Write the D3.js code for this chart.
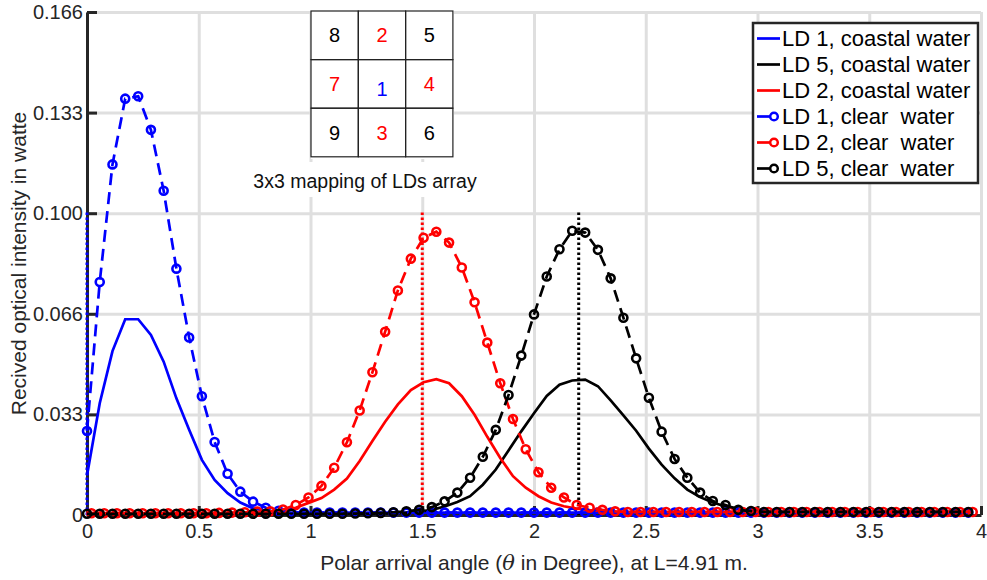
<!DOCTYPE html>
<html lang="en">

<head>
    <meta charset="utf-8">
    <title>Received optical intensity vs polar arrival angle</title>
    <script src="https://cdn.jsdelivr.net/npm/d3@7"></script>
    <style type="text/css">
    body {
        margin: 0;
        background: #fff;
    }

    svg {
        display: block;
        font-family: "Liberation Sans", Arial, sans-serif;
    }

    .grid line {
        stroke: #dfdfdf;
        stroke-width: 3;
    }

    .grid path {
        display: none;
    }

    .axis path,
    .axis line {
        fill: none;
        stroke: #262626;
        stroke-width: 3;
    }

    .axis text {
        font-size: 20px;
        fill: #262626;
    }
    </style>
</head>

<body>
    <script type="text/javascript">
    // Sample angles (degrees) used by LD 1 and LD 5
    var angles = [
        0.000, 0.057, 0.114, 0.171, 0.229, 0.286, 0.343, 0.400, 0.457, 0.514,
        0.571, 0.629, 0.686, 0.743, 0.800, 0.857, 0.914, 0.971, 1.029, 1.086,
        1.143, 1.200, 1.257, 1.314, 1.371, 1.429, 1.486, 1.543, 1.600, 1.657,
        1.714, 1.771, 1.829, 1.886, 1.943, 2.000, 2.057, 2.114, 2.171, 2.229,
        2.286, 2.343, 2.400, 2.457, 2.514, 2.571, 2.629, 2.686, 2.743, 2.800,
        2.857, 2.914, 2.971, 3.029, 3.086, 3.143, 3.200, 3.257, 3.314, 3.371,
        3.429, 3.486, 3.543, 3.600, 3.657, 3.714, 3.771, 3.829, 3.886, 3.943
    ];

    // LD 2 was sampled on a slightly shifted grid
    var anglesLD2 = [
        0.020, 0.077, 0.134, 0.191, 0.249, 0.306, 0.363, 0.420, 0.477, 0.534,
        0.591, 0.649, 0.706, 0.763, 0.820, 0.877, 0.934, 0.991, 1.049, 1.106,
        1.163, 1.220, 1.277, 1.334, 1.391, 1.449, 1.506, 1.563, 1.620, 1.677,
        1.734, 1.791, 1.849, 1.906, 1.963, 2.020, 2.077, 2.134, 2.191, 2.249,
        2.306, 2.363, 2.420, 2.477, 2.534, 2.591, 2.649, 2.706, 2.763, 2.820,
        2.877, 2.934, 2.991, 3.049, 3.106, 3.163, 3.220, 3.277, 3.334, 3.391,
        3.449, 3.506, 3.563, 3.620, 3.677, 3.734, 3.791, 3.849, 3.906, 3.963
    ];

    var ld1Coastal = [
        0.0130, 0.0369, 0.0541, 0.0646, 0.0646, 0.0594, 0.0506, 0.0385, 0.0281, 0.0182,
        0.0116, 0.0072, 0.0041, 0.0022, 0.0014, 0.0010, 0.0008, 0.0008, 0.0008, 0.0008,
        0.0008, 0.0008, 0.0008, 0.0008, 0.0008, 0.0008, 0.0008, 0.0008, 0.0008, 0.0008,
        0.0008, 0.0008, 0.0008, 0.0008, 0.0008, 0.0008, 0.0008, 0.0008, 0.0008, 0.0008,
        0.0008, 0.0008, 0.0008, 0.0008, 0.0008, 0.0008, 0.0008, 0.0008, 0.0008, 0.0008,
        0.0008, 0.0008, 0.0008, 0.0008, 0.0008, 0.0008, 0.0008, 0.0008, 0.0008, 0.0008,
        0.0008, 0.0008, 0.0008, 0.0008, 0.0008, 0.0008, 0.0008, 0.0008, 0.0008, 0.0008
    ];

    var ld5Coastal = [
        0.0004, 0.0004, 0.0004, 0.0004, 0.0004, 0.0004, 0.0004, 0.0004, 0.0004, 0.0004,
        0.0004, 0.0004, 0.0004, 0.0004, 0.0004, 0.0004, 0.0004, 0.0004, 0.0004, 0.0004,
        0.0004, 0.0004, 0.0004, 0.0004, 0.0006, 0.0008, 0.0011, 0.0017, 0.0028, 0.0043,
        0.0062, 0.0100, 0.0150, 0.0213, 0.0276, 0.0336, 0.0393, 0.0430, 0.0444, 0.0447,
        0.0425, 0.0378, 0.0329, 0.0278, 0.0219, 0.0166, 0.0121, 0.0084, 0.0059, 0.0041,
        0.0028, 0.0021, 0.0015, 0.0012, 0.0010, 0.0010, 0.0010, 0.0010, 0.0010, 0.0010,
        0.0010, 0.0010, 0.0010, 0.0010, 0.0010, 0.0010, 0.0010, 0.0010, 0.0010, 0.0010
    ];

    var ld2Coastal = [
        0.0006, 0.0006, 0.0006, 0.0006, 0.0006, 0.0006, 0.0006, 0.0006, 0.0006, 0.0006,
        0.0006, 0.0006, 0.0008, 0.0010, 0.0012, 0.0017, 0.0024, 0.0040, 0.0056, 0.0084,
        0.0120, 0.0178, 0.0244, 0.0308, 0.0365, 0.0412, 0.0438, 0.0448, 0.0435, 0.0392,
        0.0331, 0.0258, 0.0188, 0.0128, 0.0090, 0.0062, 0.0041, 0.0029, 0.0021, 0.0016,
        0.0013, 0.0011, 0.0010, 0.0010, 0.0010, 0.0010, 0.0010, 0.0010, 0.0010, 0.0010,
        0.0010, 0.0010, 0.0010, 0.0010, 0.0010, 0.0010, 0.0010, 0.0010, 0.0010, 0.0010,
        0.0010, 0.0010, 0.0010, 0.0010, 0.0010, 0.0010, 0.0010, 0.0010, 0.0010, 0.0010
    ];

    var ld1Clear = [
        0.0277, 0.0769, 0.1157, 0.1374, 0.1382, 0.1271, 0.1070, 0.0813, 0.0586, 0.0392,
        0.0241, 0.0136, 0.0077, 0.0044, 0.0024, 0.0014, 0.0010, 0.0008, 0.0008, 0.0008,
        0.0008, 0.0008, 0.0008, 0.0008, 0.0008, 0.0008, 0.0008, 0.0008, 0.0008, 0.0008,
        0.0008, 0.0008, 0.0008, 0.0008, 0.0008, 0.0008, 0.0008, 0.0008, 0.0008, 0.0008,
        0.0008, 0.0008, 0.0008, 0.0008, 0.0008, 0.0008, 0.0008, 0.0008, 0.0008, 0.0008,
        0.0008, 0.0008, 0.0008, 0.0008, 0.0008, 0.0008, 0.0008, 0.0008, 0.0008, 0.0008,
        0.0008, 0.0008, 0.0008, 0.0008, 0.0008, 0.0008, 0.0008, 0.0008, 0.0008, 0.0008
    ];

    var ld2Clear = [
        0.0006, 0.0006, 0.0006, 0.0006, 0.0006, 0.0006, 0.0006, 0.0006, 0.0006, 0.0006,
        0.0007, 0.0008, 0.0009, 0.0011, 0.0012, 0.0018, 0.0033, 0.0058, 0.0096, 0.0156,
        0.0240, 0.0345, 0.0471, 0.0605, 0.0741, 0.0846, 0.0915, 0.0935, 0.0899, 0.0817,
        0.0702, 0.0569, 0.0435, 0.0317, 0.0217, 0.0141, 0.0090, 0.0058, 0.0033, 0.0024,
        0.0017, 0.0012, 0.0010, 0.0010, 0.0010, 0.0010, 0.0010, 0.0010, 0.0010, 0.0010,
        0.0010, 0.0010, 0.0010, 0.0010, 0.0010, 0.0010, 0.0010, 0.0010, 0.0010, 0.0010,
        0.0010, 0.0010, 0.0010, 0.0010, 0.0010, 0.0010, 0.0010, 0.0010, 0.0010, 0.0010
    ];

    var ld5Clear = [
        0.0004, 0.0004, 0.0004, 0.0004, 0.0004, 0.0004, 0.0004, 0.0004, 0.0004, 0.0004,
        0.0004, 0.0004, 0.0004, 0.0004, 0.0004, 0.0004, 0.0004, 0.0004, 0.0004, 0.0004,
        0.0004, 0.0005, 0.0006, 0.0007, 0.0009, 0.0012, 0.0017, 0.0026, 0.0045, 0.0074,
        0.0123, 0.0192, 0.0281, 0.0396, 0.0526, 0.0662, 0.0787, 0.0877, 0.0938, 0.0932,
        0.0875, 0.0781, 0.0651, 0.0517, 0.0387, 0.0275, 0.0185, 0.0123, 0.0074, 0.0046,
        0.0033, 0.0017, 0.0013, 0.0010, 0.0010, 0.0010, 0.0010, 0.0010, 0.0010, 0.0010,
        0.0010, 0.0010, 0.0010, 0.0010, 0.0010, 0.0010, 0.0010, 0.0010, 0.0010, 0.0010
    ];

    // Dotted markers of the peak angle of each LD (angle, colour), drawn up to peakLevel
    var peakAngles = [0, 1.5, 2.2];
    var peakColors = ["#0000ff", "#ff0000", "#000000"];
    var peakLevel = 0.1;

    // Axis ticks
    var xTickValues = [0, 0.5, 1, 1.5, 2, 2.5, 3, 3.5, 4];
    var xTickLabels = ["0", "0.5", "1", "1.5", "2", "2.5", "3", "3.5", "4"];
    var yTickValues = [0, 0.0332, 0.0664, 0.0996, 0.1328, 0.166];
    var yTickLabels = ["0", "0.033", "0.066", "0.100", "0.133", "0.166"];

    // Legend
    var legendLabels = ["LD 1, coastal water", "LD 5, coastal water", "LD 2, coastal water",
        "LD 1, clear  water", "LD 2, clear  water", "LD 5, clear  water"];

    // 3x3 mapping of the LD array
    var ldGrid = [["8", "2", "5"], ["7", "1", "4"], ["9", "3", "6"]];
    var ldGridColors = [["#000", "#f00", "#000"], ["#f00", "#00f", "#f00"], ["#000", "#f00", "#000"]];

    //Define margins
    var margin = { top: 12, right: 6, bottom: 65, left: 87 };
    var outer_width = 987;
    var outer_height = 580;
    var svg_width = outer_width - margin.left - margin.right;
    var svg_height = outer_height - margin.top - margin.bottom;

    var root = d3.select("body")
        .append("svg")
        .attr("width", outer_width)
        .attr("height", outer_height);

    var svg = root.append("g")
        .attr("transform", "translate(" + margin.left + "," + margin.top + ")");

    var xScale = d3.scaleLinear().domain([0, 4]).range([0, svg_width]);
    var yScale = d3.scaleLinear().domain([0, 0.166]).range([svg_height, 0]);

    // Grid
    svg.append("g")
        .attr("class", "grid")
        .attr("transform", "translate(0," + svg_height + ")")
        .call(d3.axisBottom(xScale).tickValues(xTickValues).tickSize(-svg_height).tickFormat(""));
    svg.append("g")
        .attr("class", "grid")
        .call(d3.axisLeft(yScale).tickValues(yTickValues).tickSize(-svg_width).tickFormat(""));

    // Axes with inward ticks
    var xAxis = d3.axisBottom(xScale)
        .tickValues(xTickValues)
        .tickFormat(function(d, i) { return xTickLabels[i]; })
        .tickSizeInner(-9)
        .tickSizeOuter(0)
        .tickPadding(9);
    var yAxis = d3.axisLeft(yScale)
        .tickValues(yTickValues)
        .tickFormat(function(d, i) { return yTickLabels[i]; })
        .tickSizeInner(-10)
        .tickSizeOuter(0)
        .tickPadding(4);

    svg.append("g")
        .attr("class", "axis")
        .attr("transform", "translate(0," + svg_height + ")")
        .call(xAxis);
    svg.append("g")
        .attr("class", "axis")
        .call(yAxis);
    svg.selectAll(".axis").attr("font-size", null).attr("font-family", null);

    // Series
    var series = [
        { xs: angles, ys: ld1Coastal, color: "#0000ff", dashed: false },
        { xs: angles, ys: ld5Coastal, color: "#000000", dashed: false },
        { xs: anglesLD2, ys: ld2Coastal, color: "#ff0000", dashed: false },
        { xs: angles, ys: ld1Clear, color: "#0000ff", dashed: true },
        { xs: anglesLD2, ys: ld2Clear, color: "#ff0000", dashed: true },
        { xs: angles, ys: ld5Clear, color: "#000000", dashed: true }
    ];

    var line = d3.line()
        .x(function(d) { return xScale(d[0]); })
        .y(function(d) { return yScale(d[1]); });

    // Vertical dotted peak markers
    svg.selectAll(".peak")
        .data(peakAngles)
        .enter()
        .append("line")
        .attr("class", "peak")
        .attr("x1", function(d) { return xScale(d); })
        .attr("x2", function(d) { return xScale(d); })
        .attr("y1", yScale(0))
        .attr("y2", yScale(peakLevel))
        .attr("stroke", function(d, i) { return peakColors[i]; })
        .attr("stroke-width", 3)
        .attr("stroke-dasharray", "2.5,2.5");

    series.forEach(function(s) {
        var pts = s.xs.map(function(x, i) { return [x, s.ys[i]]; });
        svg.append("path")
            .datum(pts)
            .attr("d", line)
            .attr("fill", "none")
            .attr("stroke", s.color)
            .attr("stroke-width", 2.7)
            .attr("stroke-dasharray", s.dashed ? "12,7" : null);
        if (s.dashed) {
            svg.append("g")
                .selectAll("circle")
                .data(pts)
                .enter()
                .append("circle")
                .attr("cx", function(d) { return xScale(d[0]); })
                .attr("cy", function(d) { return yScale(d[1]); })
                .attr("r", 4)
                .attr("fill", "none")
                .attr("stroke", s.color)
                .attr("stroke-width", 2.6);
        }
    });

    // Axis titles
    root.append("text")
        .attr("transform", "translate(25.5," + (margin.top + svg_height / 2) + ") rotate(-90)")
        .attr("text-anchor", "middle")
        .attr("font-size", "21px")
        .attr("fill", "#262626")
        .text("Recived optical intensity in watte");

    var xTitle = root.append("text")
        .attr("x", margin.left + svg_width / 2)
        .attr("y", 570)
        .attr("text-anchor", "middle")
        .attr("font-size", "21px")
        .attr("fill", "#262626");
    xTitle.append("tspan").text("Polar arrival angle (");
    xTitle.append("tspan").attr("font-family", "'DejaVu Serif', serif").attr("font-style", "italic").text("\u03b8");
    xTitle.append("tspan").text(" in Degree), at L=4.91 m.");

    // Inset: 3x3 mapping of LDs array
    var inset = root.append("g");
    inset.append("rect")
        .attr("x", 311).attr("y", 9).attr("width", 143).attr("height", 150)
        .attr("fill", "#fff");
    inset.append("rect")
        .attr("x", 244).attr("y", 162).attr("width", 244).attr("height", 35)
        .attr("fill", "#fff");
    var cellW = 47.3, cellH = 48.6, gx = 311, gy = 11;
    ldGrid.forEach(function(row, r) {
        row.forEach(function(label, c) {
            inset.append("rect")
                .attr("x", gx + c * cellW)
                .attr("y", gy + r * cellH)
                .attr("width", cellW)
                .attr("height", cellH)
                .attr("fill", "none")
                .attr("stroke", "#222")
                .attr("stroke-width", 1.2);
            inset.append("text")
                .attr("x", gx + c * cellW + cellW / 2)
                .attr("y", gy + r * cellH + cellH / 2 + 7 + (r == 1 && c == 1 ? 5 : 0))
                .attr("text-anchor", "middle")
                .attr("font-size", "20px")
                .attr("fill", ldGridColors[r][c])
                .text(label);
        });
    });
    inset.append("text")
        .attr("x", 365)
        .attr("y", 188)
        .attr("text-anchor", "middle")
        .attr("font-size", "19.5px")
        .attr("fill", "#111")
        .text("3x3 mapping of LDs array");

    // Legend
    var legend = root.append("g");
    legend.append("rect")
        .attr("x", 753).attr("y", 23).attr("width", 225).attr("height", 160)
        .attr("fill", "#fff")
        .attr("stroke", "#262626")
        .attr("stroke-width", 2.5);
    series.forEach(function(s, i) {
        var cy = 38.5 + i * 26;
        if (s.dashed) {
            legend.append("line")
                .attr("x1", 757).attr("x2", 770).attr("y1", cy).attr("y2", cy)
                .attr("stroke", s.color).attr("stroke-width", 2.7);
            legend.append("circle")
                .attr("cx", 774).attr("cy", cy).attr("r", 3.8)
                .attr("fill", "none").attr("stroke", s.color).attr("stroke-width", 2.5);
        } else {
            legend.append("line")
                .attr("x1", 757).attr("x2", 780).attr("y1", cy).attr("y2", cy)
                .attr("stroke", s.color).attr("stroke-width", 2.7);
        }
        legend.append("text")
            .attr("x", 782)
            .attr("y", cy + 7.8)
            .attr("font-size", "22px")
            .attr("fill", "#000")
            .style("white-space", "pre")
            .text(legendLabels[i]);
    });
    </script>
</body>

</html>
